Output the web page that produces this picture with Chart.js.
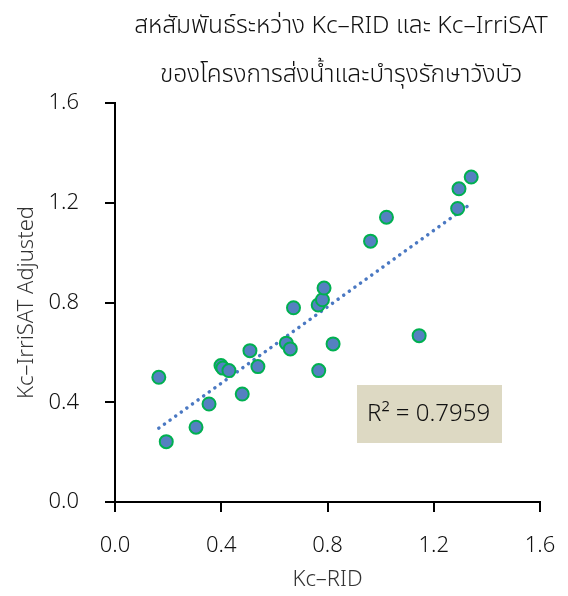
<!DOCTYPE html>
<html>
<head>
<meta charset="utf-8">
<script src="https://cdn.jsdelivr.net/npm/chart.js@4/dist/chart.umd.min.js"></script>
<style>
  html, body { margin: 0; padding: 0; background: #fff; }
  #wrap { width: 568px; height: 596px; }
</style>
</head>
<body>
<div id="wrap"><canvas id="myChart" width="568" height="596"></canvas></div>
<script>
let titleLines = ["สหสัมพันธ์ระหว่าง Kc–RID และ Kc–IrriSAT", "ของโครงการส่งน้ำและบำรุงรักษาวังบัว"];

// Kc-RID vs Kc-IrriSAT adjusted
let kcRid = [0.165, 0.193, 0.305, 0.354, 0.399, 0.406, 0.429, 0.479, 0.508, 0.538,
             0.645, 0.660, 0.672, 0.767, 0.765, 0.781, 0.787, 0.821,
             0.962, 1.022, 1.145, 1.290, 1.295, 1.341];
let kcIrrisat = [0.500, 0.242, 0.300, 0.393, 0.547, 0.537, 0.527, 0.433, 0.607, 0.543,
                 0.637, 0.614, 0.779, 0.527, 0.790, 0.811, 0.858, 0.634,
                 1.046, 1.142, 0.667, 1.177, 1.256, 1.303];

// trendline end points
let trendX = [0.165, 1.332];
let trendY = [0.296, 1.190];

let rSquared = "R² = 0.7959";
let fontFam = "'Noto Sans', 'Noto Sans Thai', sans-serif";

let points = kcRid.map((x, i) => ({x: x, y: kcIrrisat[i]}));
let trend = trendX.map((x, i) => ({x: x, y: trendY[i]}));

let extras = {
  id: 'extras',
  afterDraw(chart) {
    let c = chart.ctx;
    c.save();
    c.fillStyle = '#111';
    c.font = "300 24.5px " + fontFam;
    c.textAlign = 'center';
    c.textBaseline = 'alphabetic';
    c.fillText(titleLines[0], 341, 33);
    c.fillText(titleLines[1], 341, 82);

    // R² box
    c.fillStyle = '#ddd9c3';
    c.fillRect(357, 385, 145, 58);
    c.fillStyle = '#111';
    c.font = "300 24px " + fontFam;
    c.textAlign = 'left';
    c.textBaseline = 'middle';
    c.fillText(rSquared, 367, 414);
    c.restore();
  }
};

let ctx = document.getElementById('myChart').getContext('2d');

let chart = new Chart(ctx, {
  type: 'scatter',
  data: {
    datasets: [{
      label: 'Kc',
      data: points,
      backgroundColor: '#5580c1',
      borderColor: '#00b050',
      borderWidth: 2,
      pointRadius: 6.5,
      order: 1
    }, {
      type: 'line',
      label: 'trend',
      data: trend,
      borderColor: '#4a78c2',
      borderWidth: 3.5,
      borderDash: [0.1, 6.8],
      borderCapStyle: 'round',
      pointRadius: 0,
      fill: false,
      order: 2
    }]
  },
  plugins: [extras],
  options: {
    responsive: false,
    animation: false,
    layout: { padding: { top: 103, right: 28, left: 0, bottom: 0 } },
    plugins: {
      legend: { display: false },
      tooltip: { enabled: false }
    },
    scales: {
      x: {
        type: 'linear',
        min: 0, max: 1.6,
        afterFit(scale) {
          scale.height = 94;
          scale.paddingLeft = 0;
          scale.paddingRight = 0;
        },
        ticks: {
          stepSize: 0.4,
          color: '#111',
          padding: 21,
          font: { size: 22, family: fontFam, weight: 300 },
          callback: v => v.toFixed(1)
        },
        grid: { drawOnChartArea: false, tickLength: 10, color: '#000', lineWidth: 2 },
        border: { color: '#000', width: 2 },
        title: {
          display: true,
          text: 'Kc–RID',
          color: '#333',
          font: { size: 22, family: fontFam, weight: 300 },
          padding: { top: 0, bottom: 3 }
        }
      },
      y: {
        type: 'linear',
        min: 0, max: 1.6,
        afterFit(scale) { scale.width = 115; },
        ticks: {
          stepSize: 0.4,
          color: '#111',
          padding: 26,
          font: { size: 22, family: fontFam, weight: 300 },
          callback: v => v.toFixed(1)
        },
        grid: { drawOnChartArea: false, tickLength: 10, color: '#000', lineWidth: 2 },
        border: { color: '#000', width: 2 },
        title: {
          display: true,
          text: 'Kc–IrriSAT Adjusted',
          color: '#333',
          font: { size: 22, family: fontFam, weight: 300 },
          padding: { top: 14, bottom: 0 }
        }
      }
    }
  }
});
</script>
</body>
</html>
